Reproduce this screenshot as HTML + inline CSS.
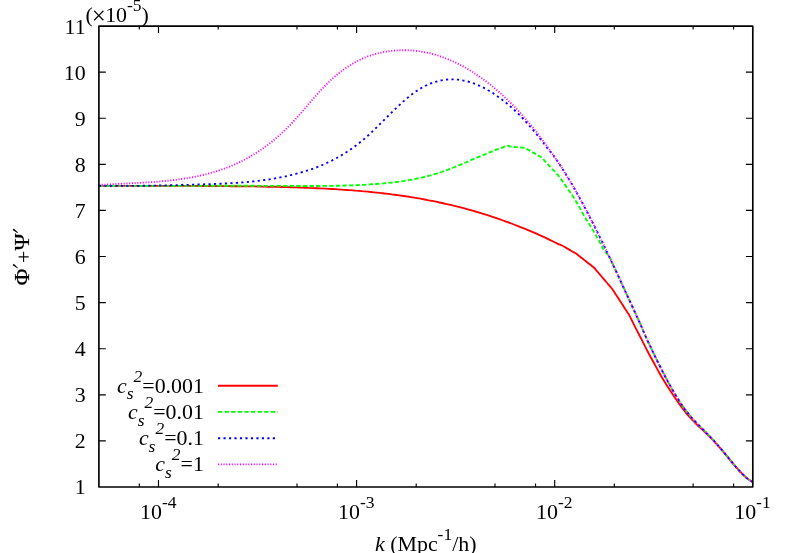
<!DOCTYPE html>
<html><head><meta charset="utf-8"><title>plot</title>
<style>html,body{margin:0;padding:0;background:#fff;overflow:hidden}svg{display:block;will-change:transform}text{font-family:"Liberation Serif",serif;fill:#000}.i{font-style:italic}</style></head><body>
<svg width="790" height="553" viewBox="0 0 790 553">
<rect width="790" height="553" fill="#fff"/>
<g fill="none" stroke-width="1.85" stroke-linejoin="round">
<path d="M98.9 185.8 C99.9 185.8 102.9 185.8 104.9 185.8 C106.9 185.9 108.9 185.9 110.9 185.9 C112.8 185.9 114.8 185.9 116.8 185.9 C118.8 185.9 120.8 185.9 122.8 185.9 C124.8 185.9 126.8 185.9 128.8 185.9 C130.8 185.9 132.8 185.9 134.8 185.9 C136.8 185.9 138.8 185.9 140.7 185.9 C142.7 185.9 144.7 185.9 146.7 185.9 C148.7 185.9 150.7 185.9 152.7 185.9 C154.7 185.9 156.7 185.9 158.7 185.9 C160.7 185.9 162.7 185.9 164.7 185.9 C166.6 185.9 168.6 185.9 170.6 185.9 C172.6 185.9 174.6 185.9 176.6 185.9 C178.6 185.9 180.6 185.9 182.6 185.9 C184.6 185.9 186.6 185.9 188.6 185.9 C190.6 185.9 192.6 185.9 194.5 185.9 C196.5 186.0 198.5 186.0 200.5 186.0 C202.5 186.0 204.5 186.0 206.5 186.0 C208.5 186.0 210.5 186.0 212.5 186.0 C214.5 186.0 216.5 186.0 218.5 186.1 C220.5 186.1 222.4 186.1 224.4 186.1 C226.4 186.1 228.4 186.1 230.4 186.2 C232.4 186.2 234.4 186.2 236.4 186.2 C238.4 186.2 240.4 186.3 242.4 186.3 C244.4 186.3 246.4 186.3 248.3 186.4 C250.3 186.4 252.3 186.4 254.3 186.4 C256.3 186.5 258.3 186.5 260.3 186.5 C262.3 186.6 264.3 186.6 266.3 186.7 C268.3 186.7 270.3 186.7 272.3 186.8 C274.3 186.8 276.2 186.9 278.2 186.9 C280.2 187.0 282.2 187.0 284.2 187.1 C286.2 187.1 288.2 187.2 290.2 187.2 C292.2 187.3 294.2 187.4 296.2 187.4 C298.2 187.5 300.2 187.6 302.1 187.6 C304.1 187.7 306.1 187.8 308.1 187.9 C310.1 187.9 312.1 188.0 314.1 188.1 C316.1 188.2 318.1 188.3 320.1 188.4 C322.1 188.5 324.1 188.6 326.1 188.7 C328.1 188.8 330.0 188.9 332.0 189.0 C334.0 189.1 336.0 189.3 338.0 189.4 C340.0 189.5 342.0 189.6 344.0 189.8 C346.0 189.9 348.0 190.1 350.0 190.2 C352.0 190.4 354.0 190.5 356.0 190.7 C357.9 190.8 359.9 191.0 361.9 191.2 C363.9 191.3 365.9 191.5 367.9 191.7 C369.9 191.9 371.9 192.1 373.9 192.3 C375.9 192.5 377.9 192.7 379.9 192.9 C381.9 193.1 383.8 193.4 385.8 193.6 C387.8 193.8 389.8 194.1 391.8 194.4 C393.8 194.6 395.8 194.9 397.8 195.1 C399.8 195.4 401.8 195.7 403.8 196.0 C405.8 196.3 407.8 196.6 409.8 196.9 C411.7 197.2 413.7 197.6 415.7 197.9 C417.7 198.2 419.7 198.6 421.7 198.9 C423.7 199.3 425.7 199.7 427.7 200.1 C429.7 200.4 431.7 200.8 433.7 201.2 C435.7 201.6 437.6 202.0 439.6 202.5 C441.6 202.9 443.6 203.3 445.6 203.8 C447.6 204.2 449.6 204.7 451.6 205.2 C453.6 205.7 455.6 206.2 457.6 206.7 C459.6 207.2 461.6 207.7 463.6 208.2 C465.5 208.7 467.5 209.3 469.5 209.8 C471.5 210.4 473.5 210.9 475.5 211.5 C477.5 212.1 479.5 212.7 481.5 213.3 C483.5 213.9 485.5 214.5 487.5 215.2 C489.5 215.8 491.5 216.5 493.4 217.1 C495.4 217.8 497.4 218.5 499.4 219.2 C501.4 219.9 503.4 220.6 505.4 221.3 C507.4 222.0 509.4 222.7 511.4 223.5 C513.4 224.2 515.4 225.0 517.4 225.8 C519.3 226.6 521.3 227.4 523.3 228.2 C525.3 229.0 527.3 229.8 529.3 230.6 C531.3 231.5 533.3 232.3 535.3 233.2 C537.3 234.1 539.3 235.0 541.3 235.9 C543.3 236.8 545.3 237.7 547.2 238.6 C549.2 239.5 551.2 240.5 553.2 241.5 C555.2 242.4 557.7 243.7 559.2 244.4 C560.7 245.1 561.1 245.0 562.1 245.5 C563.0 245.9 564.0 246.6 564.9 247.1 C565.8 247.7 566.8 248.2 567.8 248.8 C568.7 249.4 569.7 249.9 570.6 250.5 C571.5 251.0 572.5 251.6 573.4 252.1 C574.4 252.7 575.4 253.2 576.3 253.8 C577.2 254.4 578.0 255.1 578.8 255.8 C579.7 256.4 580.5 257.1 581.4 257.8 C582.2 258.4 583.1 259.1 583.9 259.8 C584.8 260.4 585.6 261.1 586.5 261.7 C587.3 262.4 588.2 263.1 589.0 263.7 C589.9 264.4 590.7 265.1 591.6 265.7 C592.4 266.4 593.3 267.0 594.1 267.7 C594.9 268.4 595.5 269.3 596.1 270.1 C596.8 270.9 597.5 271.7 598.2 272.5 C598.8 273.3 599.5 274.1 600.2 274.9 C600.9 275.7 601.6 276.5 602.2 277.3 C602.9 278.1 603.6 278.8 604.3 279.6 C604.9 280.4 605.6 281.2 606.3 282.0 C607.0 282.8 607.7 283.6 608.3 284.4 C609.0 285.2 609.7 286.0 610.4 286.8 C611.0 287.6 611.8 288.4 612.4 289.2 C613.0 290.0 613.5 291.0 614.1 291.8 C614.7 292.7 615.2 293.6 615.8 294.5 C616.4 295.4 617.0 296.2 617.5 297.1 C618.1 298.0 618.7 298.9 619.2 299.8 C619.8 300.6 620.4 301.5 621.0 302.4 C621.5 303.3 622.1 304.2 622.7 305.0 C623.2 305.9 623.8 306.8 624.4 307.7 C624.9 308.6 625.5 309.4 626.1 310.3 C626.7 311.2 627.2 312.1 627.8 313.0 C628.4 313.8 628.4 313.5 629.5 315.6 C630.6 317.7 632.7 322.2 634.3 325.3 C635.9 328.5 637.5 331.4 639.0 334.5 C640.6 337.6 642.2 340.8 643.8 343.9 C645.4 347.1 647.0 350.2 648.6 353.2 C650.2 356.2 651.8 359.1 653.4 362.0 C655.0 365.0 656.6 367.8 658.1 370.7 C659.7 373.5 661.3 376.3 662.9 379.0 C664.5 381.7 666.1 384.3 667.7 386.8 C669.3 389.3 670.9 391.7 672.5 394.1 C674.1 396.4 675.7 398.8 677.2 401.0 C678.8 403.3 680.4 405.6 682.0 407.8 C683.6 409.9 685.2 411.9 686.8 413.8 C688.4 415.7 690.0 417.5 691.6 419.2 C693.2 420.9 694.8 422.5 696.3 424.0 C697.9 425.6 699.5 427.1 701.1 428.6 C702.7 430.1 704.3 431.5 705.9 433.1 C707.5 434.6 709.1 436.2 710.7 437.8 C712.3 439.4 713.9 441.1 715.4 442.8 C717.0 444.6 718.6 446.4 720.2 448.2 C721.8 450.0 723.5 452.0 725.0 453.8 C726.5 455.5 727.4 456.6 729.0 458.6 C730.7 460.7 733.0 463.5 734.9 465.8 C736.9 468.1 738.9 470.4 740.9 472.4 C742.9 474.5 744.8 476.4 746.8 478.1 C748.8 479.7 751.8 481.5 752.8 482.2" stroke="#f00"/>
<path d="M98.9 185.8 C99.9 185.8 102.9 185.8 104.9 185.8 C106.9 185.8 108.9 185.8 110.9 185.9 C112.9 185.9 114.9 185.9 116.9 185.9 C118.9 185.9 120.9 185.9 122.9 185.9 C124.9 185.9 126.9 185.9 129.0 185.9 C131.0 185.9 133.0 185.9 135.0 185.9 C137.0 185.9 139.0 185.9 141.0 185.9 C143.0 185.9 145.0 185.9 147.0 185.9 C149.0 185.9 151.0 185.9 153.0 185.9 C155.0 185.9 157.0 185.9 159.0 185.9 C161.0 185.9 163.0 185.9 165.0 185.9 C167.0 185.9 169.0 185.9 171.0 185.9 C173.0 185.9 175.0 185.9 177.0 185.9 C179.0 185.9 181.0 185.9 183.0 185.8 C185.0 185.8 187.1 185.8 189.1 185.8 C191.1 185.8 193.1 185.8 195.1 185.8 C197.1 185.8 199.1 185.8 201.1 185.8 C203.1 185.8 205.1 185.8 207.1 185.8 C209.1 185.8 211.1 185.8 213.1 185.7 C215.1 185.7 217.1 185.7 219.1 185.7 C221.1 185.7 223.1 185.7 225.1 185.7 C227.1 185.7 229.1 185.7 231.1 185.7 C233.1 185.7 235.1 185.7 237.1 185.7 C239.1 185.7 241.1 185.7 243.1 185.7 C245.2 185.7 247.2 185.7 249.2 185.7 C251.2 185.7 253.2 185.7 255.2 185.8 C257.2 185.8 259.2 185.8 261.2 185.8 C263.2 185.8 265.2 185.8 267.2 185.8 C269.2 185.8 271.2 185.8 273.2 185.9 C275.2 185.9 277.2 185.9 279.2 185.9 C281.2 185.9 283.2 185.9 285.2 185.9 C287.2 186.0 289.2 186.0 291.2 186.0 C293.2 186.0 295.2 186.0 297.2 186.0 C299.2 186.0 301.2 186.0 303.2 186.0 C305.3 186.0 307.3 186.0 309.3 186.0 C311.3 186.0 313.3 186.0 315.3 186.0 C317.3 186.0 319.3 186.0 321.3 185.9 C323.3 185.9 325.3 185.9 327.3 185.9 C329.3 185.9 331.3 185.8 333.3 185.8 C335.3 185.7 337.3 185.7 339.3 185.7 C341.3 185.6 343.3 185.6 345.3 185.5 C347.3 185.4 349.3 185.4 351.3 185.3 C353.3 185.2 355.3 185.1 357.3 185.1 C359.3 185.0 361.3 184.9 363.4 184.8 C365.4 184.7 367.4 184.6 369.4 184.4 C371.4 184.3 373.4 184.2 375.4 184.0 C377.4 183.9 379.4 183.7 381.4 183.6 C383.4 183.4 385.4 183.2 387.4 183.0 C389.4 182.8 391.4 182.6 393.4 182.4 C395.4 182.1 397.4 181.9 399.4 181.6 C401.4 181.3 403.4 181.0 405.4 180.7 C407.4 180.4 409.4 180.1 411.4 179.7 C413.4 179.3 415.4 178.9 417.4 178.5 C419.4 178.1 421.5 177.7 423.5 177.2 C425.5 176.7 427.5 176.2 429.5 175.6 C431.5 175.1 433.5 174.5 435.5 173.9 C437.5 173.3 439.5 172.7 441.5 172.0 C443.5 171.3 445.5 170.6 447.5 169.8 C449.5 169.1 451.5 168.3 453.5 167.5 C455.5 166.7 457.5 165.9 459.5 165.1 C461.5 164.2 463.5 163.4 465.5 162.5 C467.5 161.7 469.5 160.8 471.5 159.9 C473.5 159.0 475.5 158.2 477.5 157.3 C479.6 156.5 481.6 155.6 483.6 154.8 C485.6 153.9 487.6 153.1 489.6 152.3 C491.6 151.5 493.6 150.7 495.6 149.9 C497.6 149.2 499.6 148.5 501.6 147.8 C503.6 147.1 506.0 146.0 507.6 145.8 C509.2 145.7 509.9 146.5 511.0 146.7 C512.1 146.9 513.3 146.9 514.4 147.0 C515.5 147.1 516.7 147.1 517.8 147.2 C518.9 147.3 520.1 147.4 521.2 147.5 C522.3 147.6 523.6 147.5 524.6 147.8 C525.6 148.1 526.5 148.9 527.4 149.4 C528.4 149.9 529.3 150.5 530.2 151.0 C531.2 151.5 532.1 152.1 533.0 152.6 C534.0 153.1 534.9 153.7 535.9 154.2 C536.8 154.7 537.7 155.3 538.7 155.8 C539.6 156.3 540.7 156.7 541.5 157.4 C542.3 158.1 542.9 158.9 543.7 159.7 C544.4 160.5 545.1 161.3 545.8 162.1 C546.5 162.8 547.3 163.6 548.0 164.4 C548.7 165.2 549.4 165.9 550.1 166.7 C550.9 167.5 551.6 168.2 552.3 169.0 C553.0 169.8 553.8 170.6 554.5 171.3 C555.2 172.1 555.9 172.9 556.6 173.7 C557.4 174.5 558.1 175.2 558.8 176.0 C559.4 176.8 560.0 177.7 560.5 178.5 C561.1 179.3 561.7 180.1 562.3 180.9 C562.9 181.8 563.4 182.6 564.0 183.4 C564.6 184.2 565.2 185.1 565.8 185.9 C566.3 186.7 566.9 187.6 567.5 188.4 C568.1 189.2 568.6 190.0 569.2 190.9 C569.8 191.7 570.4 192.5 571.0 193.3 C571.5 194.2 572.1 194.9 572.7 195.8 C573.3 196.7 573.8 197.6 574.3 198.5 C574.8 199.4 575.3 200.3 575.9 201.2 C576.4 202.0 576.9 202.9 577.4 203.8 C577.9 204.7 578.5 205.6 579.0 206.5 C579.5 207.4 580.1 208.4 580.6 209.3 C581.1 210.3 581.6 211.2 582.1 212.2 C582.7 213.1 583.2 214.1 583.7 215.1 C584.2 216.0 584.7 216.9 585.3 217.9 C585.9 218.9 586.7 220.1 587.4 221.3 C588.1 222.4 588.8 223.5 589.5 224.6 C590.2 225.8 591.0 227.0 591.6 228.0 C592.2 229.0 592.7 229.8 593.2 230.7 C593.7 231.6 594.3 232.5 594.8 233.4 C595.3 234.3 595.9 235.2 596.4 236.1 C596.9 237.0 597.5 237.9 598.0 238.8 C598.5 239.8 599.1 240.8 599.6 241.8 C600.1 242.8 600.6 243.8 601.1 244.8 C601.7 245.8 602.2 246.8 602.7 247.8 C603.2 248.8 603.2 249.3 604.3 250.8 C605.4 252.3 607.5 253.7 609.3 256.9 C611.2 260.1 613.4 265.6 615.5 269.9 C617.5 274.3 619.6 278.7 621.6 283.2 C623.6 287.6 625.7 292.1 627.7 296.5 C629.8 301.0 631.8 305.5 633.9 310.0 C635.9 314.5 638.0 318.9 640.0 323.4 C642.0 327.9 644.0 332.6 645.9 337.0 C647.9 341.4 649.9 345.5 651.9 349.7 C653.8 353.8 655.8 358.0 657.8 362.0 C659.8 366.0 661.8 369.9 663.7 373.8 C665.7 377.6 667.7 381.3 669.7 384.9 C671.6 388.4 673.6 391.9 675.6 395.1 C677.6 398.4 679.6 401.5 681.5 404.5 C683.5 407.4 685.5 410.1 687.5 412.6 C689.5 415.2 691.4 417.4 693.4 419.6 C695.4 421.8 697.4 423.8 699.3 425.8 C701.3 427.8 703.3 429.7 705.3 431.7 C707.3 433.8 709.2 435.8 711.2 437.9 C713.2 440.0 715.2 442.2 717.1 444.5 C719.1 446.7 721.1 449.1 723.1 451.4 C725.1 453.8 727.0 456.2 729.0 458.6 C731.0 461.0 733.0 463.5 734.9 465.8 C736.9 468.1 738.9 470.4 740.9 472.4 C742.9 474.5 744.8 476.4 746.8 478.1 C748.8 479.7 751.8 481.5 752.8 482.2" stroke="#0f0" stroke-dasharray="4.39 2.19"/>
<path d="M98.9 185.7 C99.9 185.7 102.9 185.8 104.9 185.8 C106.9 185.8 108.9 185.8 110.9 185.8 C112.9 185.8 114.9 185.9 116.9 185.9 C118.9 185.9 120.9 185.9 122.9 185.9 C124.8 185.9 126.8 185.9 128.8 185.8 C130.8 185.8 132.8 185.8 134.8 185.8 C136.8 185.8 138.8 185.8 140.8 185.8 C142.8 185.7 144.8 185.7 146.8 185.7 C148.8 185.7 150.8 185.6 152.8 185.6 C154.8 185.6 156.8 185.5 158.8 185.5 C160.8 185.4 162.8 185.4 164.8 185.4 C166.8 185.3 168.8 185.3 170.8 185.2 C172.8 185.2 174.7 185.1 176.7 185.1 C178.7 185.0 180.7 185.0 182.7 184.9 C184.7 184.9 186.7 184.8 188.7 184.8 C190.7 184.7 192.7 184.7 194.7 184.6 C196.7 184.5 198.7 184.5 200.7 184.4 C202.7 184.4 204.7 184.3 206.7 184.2 C208.7 184.2 210.7 184.1 212.7 184.0 C214.7 184.0 216.7 183.9 218.7 183.8 C220.7 183.7 222.7 183.6 224.6 183.5 C226.6 183.4 228.6 183.3 230.6 183.2 C232.6 183.1 234.6 183.0 236.6 182.9 C238.6 182.7 240.6 182.6 242.6 182.4 C244.6 182.2 246.6 182.1 248.6 181.9 C250.6 181.7 252.6 181.5 254.6 181.3 C256.6 181.1 258.6 180.8 260.6 180.6 C262.6 180.3 264.6 180.1 266.6 179.8 C268.6 179.5 270.6 179.2 272.6 178.8 C274.5 178.5 276.5 178.1 278.5 177.8 C280.5 177.4 282.5 177.0 284.5 176.6 C286.5 176.1 288.5 175.7 290.5 175.2 C292.5 174.7 294.5 174.2 296.5 173.7 C298.5 173.2 300.5 172.6 302.5 172.0 C304.5 171.4 306.5 170.8 308.5 170.1 C310.5 169.5 312.5 168.8 314.5 168.1 C316.5 167.3 318.5 166.6 320.5 165.7 C322.5 164.9 324.4 164.1 326.4 163.1 C328.4 162.2 330.4 161.3 332.4 160.3 C334.4 159.2 336.4 158.2 338.4 157.1 C340.4 155.9 342.4 154.8 344.4 153.5 C346.4 152.3 348.4 150.9 350.4 149.6 C352.4 148.2 354.4 146.7 356.4 145.2 C358.4 143.7 360.4 142.1 362.4 140.5 C364.4 138.8 366.4 137.0 368.4 135.2 C370.4 133.4 372.4 131.5 374.3 129.6 C376.3 127.7 378.3 125.7 380.3 123.7 C382.3 121.8 384.3 119.8 386.3 117.8 C388.3 115.8 390.3 113.8 392.3 111.8 C394.3 109.9 396.3 107.9 398.3 106.1 C400.3 104.2 402.3 102.4 404.3 100.6 C406.3 98.9 408.3 97.2 410.3 95.6 C412.3 94.1 414.3 92.6 416.3 91.2 C418.3 89.9 420.3 88.6 422.3 87.5 C424.2 86.4 426.2 85.4 428.2 84.5 C430.2 83.6 432.2 82.9 434.2 82.2 C436.2 81.6 438.2 81.0 440.2 80.6 C442.2 80.2 444.2 79.9 446.2 79.7 C448.2 79.5 450.2 79.4 452.2 79.4 C454.2 79.4 456.2 79.5 458.2 79.7 C460.2 79.9 462.2 80.2 464.2 80.7 C466.2 81.1 468.2 81.6 470.2 82.2 C472.2 82.8 474.1 83.5 476.1 84.3 C478.1 85.1 480.1 86.0 482.1 87.0 C484.1 87.9 486.1 89.0 488.1 90.2 C490.1 91.3 492.1 92.5 494.1 93.9 C496.1 95.2 498.1 96.6 500.1 98.1 C502.1 99.6 504.1 101.1 506.1 102.8 C508.1 104.4 510.1 106.2 512.1 108.0 C514.1 109.8 516.1 111.7 518.1 113.6 C520.1 115.6 522.1 117.7 524.0 119.8 C526.0 121.9 528.0 124.1 530.0 126.4 C532.0 128.7 534.0 131.0 536.0 133.5 C538.0 135.9 540.0 138.4 542.0 141.0 C544.0 143.6 546.0 146.4 548.0 149.0 C550.0 151.5 552.1 153.7 554.1 156.4 C556.2 159.2 558.2 162.3 560.3 165.4 C562.3 168.5 564.4 171.7 566.4 175.1 C568.4 178.4 570.5 181.8 572.5 185.3 C574.6 188.9 576.6 192.5 578.7 196.2 C580.7 199.9 582.8 203.7 584.8 207.5 C586.8 211.4 588.9 215.3 590.9 219.3 C593.0 223.3 595.0 227.4 597.1 231.5 C599.1 235.6 601.2 239.8 603.2 244.1 C605.2 248.3 607.3 252.6 609.3 256.9 C611.4 261.2 613.4 265.6 615.5 269.9 C617.5 274.3 619.6 278.7 621.6 283.2 C623.6 287.6 625.7 292.1 627.7 296.5 C629.8 301.0 631.8 305.5 633.9 310.0 C635.9 314.5 638.0 318.9 640.0 323.4 C642.0 327.9 644.0 332.6 645.9 337.0 C647.9 341.4 649.9 345.5 651.9 349.7 C653.8 353.8 655.8 358.0 657.8 362.0 C659.8 366.0 661.8 369.9 663.7 373.8 C665.7 377.6 667.7 381.3 669.7 384.9 C671.6 388.4 673.6 391.9 675.6 395.1 C677.6 398.4 679.6 401.5 681.5 404.5 C683.5 407.4 685.5 410.1 687.5 412.6 C689.5 415.2 691.4 417.4 693.4 419.6 C695.4 421.8 697.4 423.8 699.3 425.8 C701.3 427.8 703.3 429.7 705.3 431.7 C707.3 433.8 709.2 435.8 711.2 437.9 C713.2 440.0 715.2 442.2 717.1 444.5 C719.1 446.7 721.1 449.1 723.1 451.4 C725.1 453.8 727.0 456.2 729.0 458.6 C731.0 461.0 733.0 463.5 734.9 465.8 C736.9 468.1 738.9 470.4 740.9 472.4 C742.9 474.5 744.8 476.4 746.8 478.1 C748.8 479.7 751.8 481.5 752.8 482.2" stroke="#00f" stroke-dasharray="2.19 3.29"/>
<path d="M98.9 185.0 C99.9 184.9 102.9 184.7 104.9 184.6 C106.9 184.5 108.9 184.4 110.9 184.3 C112.9 184.2 114.9 184.1 116.9 184.0 C118.9 183.9 120.9 183.8 122.9 183.7 C124.8 183.6 126.8 183.5 128.8 183.4 C130.8 183.3 132.8 183.2 134.8 183.1 C136.8 183.0 138.8 182.9 140.8 182.8 C142.8 182.7 144.8 182.6 146.8 182.4 C148.8 182.3 150.8 182.2 152.8 182.0 C154.8 181.9 156.8 181.7 158.8 181.6 C160.8 181.4 162.8 181.2 164.8 181.0 C166.8 180.8 168.8 180.6 170.8 180.4 C172.8 180.2 174.7 179.9 176.7 179.7 C178.7 179.4 180.7 179.1 182.7 178.8 C184.7 178.5 186.7 178.2 188.7 177.9 C190.7 177.5 192.7 177.2 194.7 176.8 C196.7 176.4 198.7 175.9 200.7 175.5 C202.7 175.0 204.7 174.6 206.7 174.0 C208.7 173.5 210.7 173.0 212.7 172.4 C214.7 171.8 216.7 171.2 218.7 170.6 C220.7 169.9 222.7 169.2 224.6 168.5 C226.6 167.8 228.6 167.0 230.6 166.2 C232.6 165.3 234.6 164.5 236.6 163.6 C238.6 162.6 240.6 161.7 242.6 160.7 C244.6 159.7 246.6 158.6 248.6 157.5 C250.6 156.3 252.6 155.2 254.6 153.9 C256.6 152.7 258.6 151.4 260.6 150.0 C262.6 148.7 264.6 147.3 266.6 145.8 C268.6 144.3 270.6 142.7 272.6 141.1 C274.5 139.5 276.5 137.8 278.5 136.0 C280.5 134.3 282.5 132.4 284.5 130.5 C286.5 128.6 288.5 126.6 290.5 124.6 C292.5 122.5 294.5 120.3 296.5 118.1 C298.5 115.9 300.5 113.6 302.5 111.3 C304.5 109.0 306.5 106.6 308.5 104.2 C310.5 101.9 312.5 99.5 314.5 97.3 C316.5 95.0 318.5 92.7 320.5 90.6 C322.5 88.5 324.4 86.4 326.4 84.4 C328.4 82.4 330.4 80.5 332.4 78.7 C334.4 76.9 336.4 75.2 338.4 73.6 C340.4 72.0 342.4 70.5 344.4 69.0 C346.4 67.6 348.4 66.3 350.4 65.1 C352.4 63.8 354.4 62.7 356.4 61.6 C358.4 60.6 360.4 59.6 362.4 58.7 C364.4 57.8 366.4 57.0 368.4 56.3 C370.4 55.6 372.4 54.9 374.3 54.3 C376.3 53.7 378.3 53.2 380.3 52.8 C382.3 52.3 384.3 51.9 386.3 51.6 C388.3 51.3 390.3 51.0 392.3 50.8 C394.3 50.6 396.3 50.4 398.3 50.3 C400.3 50.2 402.3 50.2 404.3 50.2 C406.3 50.2 408.3 50.2 410.3 50.4 C412.3 50.5 414.3 50.7 416.3 50.9 C418.3 51.1 420.3 51.4 422.3 51.8 C424.2 52.1 426.2 52.5 428.2 52.9 C430.2 53.4 432.2 53.9 434.2 54.5 C436.2 55.0 438.2 55.6 440.2 56.3 C442.2 57.0 444.2 57.7 446.2 58.5 C448.2 59.3 450.2 60.1 452.2 61.0 C454.2 61.9 456.2 62.9 458.2 63.9 C460.2 64.9 462.2 65.9 464.2 67.0 C466.2 68.1 468.2 69.3 470.2 70.5 C472.2 71.7 474.1 73.0 476.1 74.3 C478.1 75.7 480.1 77.1 482.1 78.5 C484.1 79.9 486.1 81.4 488.1 83.0 C490.1 84.5 492.1 86.1 494.1 87.8 C496.1 89.4 498.1 91.2 500.1 92.9 C502.1 94.7 504.1 96.6 506.1 98.5 C508.1 100.3 510.1 102.3 512.1 104.3 C514.1 106.3 516.1 108.4 518.1 110.6 C520.1 112.7 522.1 114.9 524.0 117.2 C526.0 119.4 528.0 121.8 530.0 124.2 C532.0 126.6 534.0 129.0 536.0 131.5 C538.0 134.1 540.0 136.7 542.0 139.3 C544.0 142.0 546.0 144.7 548.0 147.5 C550.0 150.4 552.1 153.4 554.1 156.4 C556.2 159.4 558.2 162.3 560.3 165.4 C562.3 168.5 564.4 171.7 566.4 175.1 C568.4 178.4 570.5 181.8 572.5 185.3 C574.6 188.9 576.6 192.5 578.7 196.2 C580.7 199.9 582.8 203.7 584.8 207.5 C586.8 211.4 588.9 215.3 590.9 219.3 C593.0 223.3 595.0 227.4 597.1 231.5 C599.1 235.6 601.2 239.8 603.2 244.1 C605.2 248.3 607.3 252.6 609.3 256.9 C611.4 261.2 613.4 265.6 615.5 269.9 C617.5 274.3 619.6 278.7 621.6 283.2 C623.6 287.6 625.7 292.1 627.7 296.5 C629.8 301.0 631.8 305.5 633.9 310.0 C635.9 314.5 638.0 318.9 640.0 323.4 C642.0 327.9 644.0 332.6 645.9 337.0 C647.9 341.4 649.9 345.5 651.9 349.7 C653.8 353.8 655.8 358.0 657.8 362.0 C659.8 366.0 661.8 369.9 663.7 373.8 C665.7 377.6 667.7 381.3 669.7 384.9 C671.6 388.4 673.6 391.9 675.6 395.1 C677.6 398.4 679.6 401.5 681.5 404.5 C683.5 407.4 685.5 410.1 687.5 412.6 C689.5 415.2 691.4 417.4 693.4 419.6 C695.4 421.8 697.4 423.8 699.3 425.8 C701.3 427.8 703.3 429.7 705.3 431.7 C707.3 433.8 709.2 435.8 711.2 437.9 C713.2 440.0 715.2 442.2 717.1 444.5 C719.1 446.7 721.1 449.1 723.1 451.4 C725.1 453.8 727.0 456.2 729.0 458.6 C731.0 461.0 733.0 463.5 734.9 465.8 C736.9 468.1 738.9 470.4 740.9 472.4 C742.9 474.5 744.8 476.4 746.8 478.1 C748.8 479.7 751.8 481.5 752.8 482.2" stroke="#f0f" stroke-dasharray="1.10 1.65"/>
<path d="M218.0 385.7H277.8" stroke="#f00"/>
<path d="M218.0 411.9H277.8" stroke="#0f0" stroke-dasharray="4.39 2.19"/>
<path d="M218.0 438.2H277.8" stroke="#00f" stroke-dasharray="2.19 3.29"/>
<path d="M218.0 464.4H277.8" stroke="#f0f" stroke-dasharray="1.10 1.65"/>
</g>
<g fill="none" stroke="#000" stroke-width="1.65" stroke-linejoin="round">
<rect x="98.9" y="26.1" width="653.9" height="460.9"/>
<path d="M98.9 440.9h6.9M752.8 440.9h-6.9M98.9 394.8h6.9M752.8 394.8h-6.9M98.9 348.7h6.9M752.8 348.7h-6.9M98.9 302.6h6.9M752.8 302.6h-6.9M98.9 256.5h6.9M752.8 256.5h-6.9M98.9 210.4h6.9M752.8 210.4h-6.9M98.9 164.3h6.9M752.8 164.3h-6.9M98.9 118.2h6.9M752.8 118.2h-6.9M98.9 72.1h6.9M752.8 72.1h-6.9M139.3 487.0v-3.4M139.3 26.1v3.4M158.5 487.0v-6.9M158.5 26.1v6.9M218.2 487.0v-3.4M218.2 26.1v3.4M297.0 487.0v-3.4M297.0 26.1v3.4M337.4 487.0v-3.4M337.4 26.1v3.4M356.6 487.0v-6.9M356.6 26.1v6.9M416.2 487.0v-3.4M416.2 26.1v3.4M495.0 487.0v-3.4M495.0 26.1v3.4M535.5 487.0v-3.4M535.5 26.1v3.4M554.7 487.0v-6.9M554.7 26.1v6.9M614.3 487.0v-3.4M614.3 26.1v3.4M693.1 487.0v-3.4M693.1 26.1v3.4M733.6 487.0v-3.4M733.6 26.1v3.4" stroke-width="1.15"/>
</g>
<g font-size="21.9" text-anchor="end">
<text x="85.6" y="494.4">1</text>
<text x="85.6" y="448.3">2</text>
<text x="85.6" y="402.2">3</text>
<text x="85.6" y="356.1">4</text>
<text x="85.6" y="310.0">5</text>
<text x="85.6" y="263.9">6</text>
<text x="85.6" y="217.8">7</text>
<text x="85.6" y="171.7">8</text>
<text x="85.6" y="125.6">9</text>
<text x="85.6" y="79.5">10</text>
<text x="85.6" y="33.5">11</text>
</g>
<g font-size="21.9">
<text x="140.0" y="518.6">10<tspan dy="-10.9" font-size="17.5">-4</tspan></text>
<text x="338.1" y="518.6">10<tspan dy="-10.9" font-size="17.5">-3</tspan></text>
<text x="536.1" y="518.6">10<tspan dy="-10.9" font-size="17.5">-2</tspan></text>
<text x="734.2" y="518.6">10<tspan dy="-10.9" font-size="17.5">-1</tspan></text>
</g>
<text x="85.5" y="21.9" font-size="21.9">(<tspan font-size="24.8" dx="-1.05" dy="2.3">×</tspan><tspan dx="-0.6" dy="-2.3">10</tspan><tspan dy="-10.9" font-size="17.5">-5</tspan><tspan dy="10.9" font-size="21.9">)</tspan></text>
<text x="375.0" y="550.7" font-size="21.9"><tspan class="i">k</tspan> (Mpc<tspan dy="-10.9" font-size="17.5">-1</tspan><tspan dy="10.9" font-size="21.9">/h)</tspan></text>
<g transform="translate(29.1 284.95) rotate(-90)" font-size="21.9">
<text transform="translate(-0.5 0) scale(1.05 1)" stroke="#000" stroke-width="0.2">Φ</text>
<text x="21.9" y="2.2">+</text>
<text transform="translate(34.5 0) scale(1.05 1)" stroke="#000" stroke-width="0.2">Ψ</text>
<path d="M16.50 -11.3L19.70 -16.5L21.20 -15.3L17.30 -11.3ZM51.80 -11.3L55.00 -16.5L56.50 -15.3L52.60 -11.3Z" fill="#000"/>
</g>
<text x="203.9" y="392.5" font-size="21.9" text-anchor="end"><tspan class="i">c</tspan><tspan class="i" font-size="17.5" dy="6.8">s</tspan><tspan class="i" font-size="17.5" dy="-17.7">2</tspan><tspan dy="10.9">=0.001</tspan></text>
<text x="203.9" y="418.7" font-size="21.9" text-anchor="end"><tspan class="i">c</tspan><tspan class="i" font-size="17.5" dy="6.8">s</tspan><tspan class="i" font-size="17.5" dy="-17.7">2</tspan><tspan dy="10.9">=0.01</tspan></text>
<text x="203.9" y="445.0" font-size="21.9" text-anchor="end"><tspan class="i">c</tspan><tspan class="i" font-size="17.5" dy="6.8">s</tspan><tspan class="i" font-size="17.5" dy="-17.7">2</tspan><tspan dy="10.9">=0.1</tspan></text>
<text x="203.9" y="471.2" font-size="21.9" text-anchor="end"><tspan class="i">c</tspan><tspan class="i" font-size="17.5" dy="6.8">s</tspan><tspan class="i" font-size="17.5" dy="-17.7">2</tspan><tspan dy="10.9">=1</tspan></text>
</svg></body></html>
